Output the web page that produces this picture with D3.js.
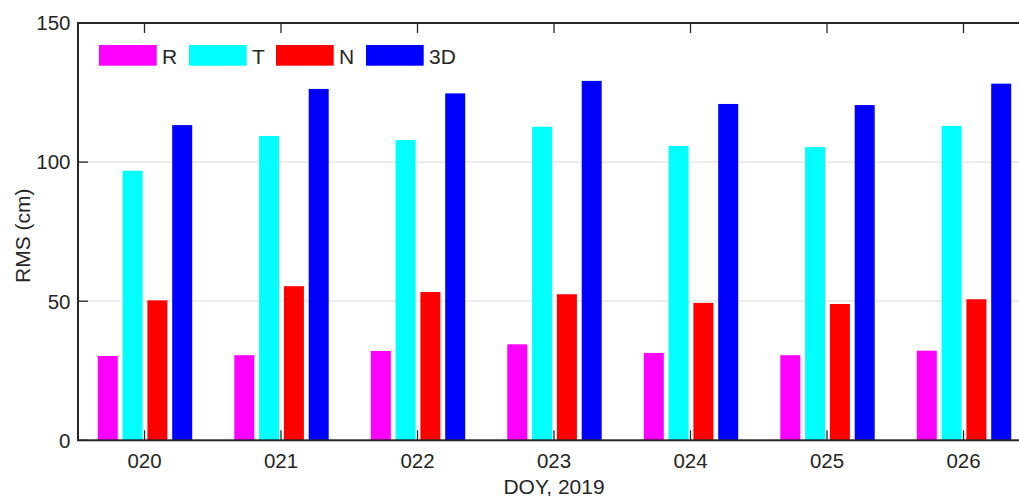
<!DOCTYPE html>
<html>
<head>
<meta charset="utf-8">
<script src="https://cdn.jsdelivr.net/npm/d3@7"></script>
<style>
  html, body { margin: 0; padding: 0; background: #fff; }
  svg { display: block; font-family: "Liberation Sans", Arial, sans-serif; }
</style>
</head>
<body>
<svg id="chart" width="1019" height="496"></svg>
<script>
// ---- data ----
const categories = ["020", "021", "022", "023", "024", "025", "026"];
const seriesNames = ["R", "T", "N", "3D"];
const seriesColors = ["#ff00ff", "#00ffff", "#ff0000", "#0000ff"];
const valuesR  = [30.3, 30.6, 32.1, 34.5, 31.4, 30.6, 32.2];
const valuesT  = [96.9, 109.4, 107.9, 112.7, 105.8, 105.4, 113.0];
const valuesN  = [50.3, 55.4, 53.3, 52.5, 49.4, 49.0, 50.7];
const values3D = [113.3, 126.3, 124.7, 129.2, 120.9, 120.5, 128.2];
const yTicks = [0, 50, 100, 150];
const yLabel = "RMS (cm)";
const xLabel = "DOY, 2019";

const seriesValues = [valuesR, valuesT, valuesN, values3D];

(function () {
// ---- layout ----
const svg = d3.select("#chart");
const pLeft = 78, pTop = 23, pBottom = 440.3, pRight = 1031;
const axisColor = "#262626";

const x = d3.scaleLinear().domain([1, categories.length]).range([144.5, 963.5]);
const y = d3.scaleLinear().domain([0, 150]).range([pBottom, pTop]);
const catStep = x(2) - x(1);
const inner = d3.scaleBand().domain(seriesNames)
  .range([-0.3634 * catStep, 0.3634 * catStep])
  .paddingInner(0.1935).paddingOuter(0.0968);

// gridlines
svg.append("g").selectAll("line").data(yTicks.filter(t => t > 0 && t < 150)).join("line")
  .attr("x1", pLeft).attr("x2", pRight)
  .attr("y1", d => y(d)).attr("y2", d => y(d))
  .attr("stroke", "#e2e2e2").attr("stroke-width", 1.3);

// bars
const barG = svg.append("g");
seriesNames.forEach((s, si) => {
  barG.append("g").selectAll("rect").data(seriesValues[si]).join("rect")
    .attr("x", (d, i) => x(i + 1) + 0.5 + inner(s))
    .attr("width", inner.bandwidth())
    .attr("y", d => y(d))
    .attr("height", d => y(0) - y(d))
    .attr("fill", seriesColors[si]);
});

// ticks (inward)
const tickLen = 10;
const tg = svg.append("g").attr("stroke", axisColor).attr("stroke-width", 1.3);
categories.forEach((c, i) => {
  tg.append("line").attr("x1", x(i + 1)).attr("x2", x(i + 1)).attr("y1", pBottom).attr("y2", pBottom - tickLen);
  tg.append("line").attr("x1", x(i + 1)).attr("x2", x(i + 1)).attr("y1", pTop).attr("y2", pTop + tickLen);
});
yTicks.forEach(t => {
  tg.append("line").attr("x1", pLeft).attr("x2", pLeft + tickLen).attr("y1", y(t)).attr("y2", y(t));
});

// axis box
svg.append("rect").attr("x", pLeft).attr("y", pTop)
  .attr("width", pRight - pLeft).attr("height", pBottom - pTop)
  .attr("fill", "none").attr("stroke", axisColor).attr("stroke-width", 2);

// tick labels
svg.append("g").selectAll("text").data(categories).join("text")
  .attr("x", (d, i) => x(i + 1)).attr("y", 468)
  .attr("text-anchor", "middle").attr("font-size", 20.5).attr("fill", axisColor)
  .text(d => d);
svg.append("g").selectAll("text").data(yTicks).join("text")
  .attr("x", 70.5).attr("y", d => y(d) + 7.3)
  .attr("text-anchor", "end").attr("font-size", 20.5).attr("fill", axisColor)
  .text(d => d);

// axis labels
svg.append("text").attr("x", 554).attr("y", 493.5)
  .attr("text-anchor", "middle").attr("font-size", 21).attr("fill", axisColor)
  .text(xLabel);
svg.append("text")
  .attr("transform", "translate(29.5," + ((pTop + pBottom) / 2 + 4) + ") rotate(-90)")
  .attr("text-anchor", "middle").attr("font-size", 21).attr("fill", axisColor)
  .text(yLabel);

// legend
const legX = [99, 189, 276, 366];
const lg = svg.append("g");
seriesNames.forEach((s, i) => {
  lg.append("rect").attr("x", legX[i]).attr("y", 45).attr("width", 57.7).attr("height", 20.7)
    .attr("fill", seriesColors[i]);
  lg.append("text").attr("x", legX[i] + 63).attr("y", 63.5)
    .attr("font-size", 21).attr("fill", axisColor).text(s);
});
})();
</script>
</body>
</html>
